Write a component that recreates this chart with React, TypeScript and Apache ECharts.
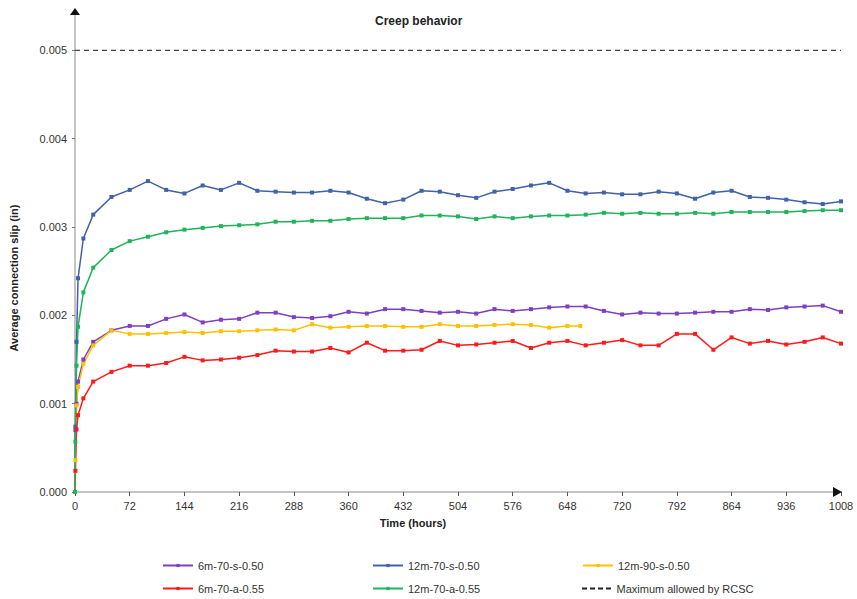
import React, { useEffect, useRef } from "react";
import * as echarts from "echarts";

// Time stamps (hours)
const hours = [0, 0.5, 2, 4, 11, 24, 48, 72, 96, 120, 144, 168, 192, 216, 240, 264, 288, 312, 336, 360, 384, 408, 432, 456, 480, 504, 528, 552, 576, 600, 624, 648, 672, 696, 720, 744, 768, 792, 816, 840, 864, 888, 912, 936, 960, 984, 1008];
const hoursYellow = [0, 0.5, 2, 4, 11, 24, 48, 72, 96, 120, 144, 168, 192, 216, 240, 264, 288, 312, 336, 360, 384, 408, 432, 456, 480, 504, 528, 552, 576, 600, 624, 648, 665];

// Slip values in thousandths of an inch
const slip6m70s050 = [0, 0.70, 1.00, 1.25, 1.50, 1.70, 1.83, 1.88, 1.88, 1.96, 2.01, 1.92, 1.95, 1.96, 2.03, 2.03, 1.98, 1.97, 1.99, 2.04, 2.02, 2.07, 2.07, 2.05, 2.03, 2.04, 2.02, 2.07, 2.05, 2.07, 2.09, 2.10, 2.10, 2.05, 2.01, 2.03, 2.02, 2.02, 2.03, 2.04, 2.04, 2.07, 2.06, 2.09, 2.10, 2.11, 2.04];
const slip12m70s050 = [0, 0.74, 1.70, 2.42, 2.87, 3.14, 3.34, 3.42, 3.52, 3.42, 3.38, 3.47, 3.42, 3.50, 3.41, 3.40, 3.39, 3.39, 3.41, 3.39, 3.32, 3.27, 3.31, 3.41, 3.40, 3.36, 3.33, 3.40, 3.43, 3.47, 3.50, 3.41, 3.38, 3.39, 3.37, 3.37, 3.40, 3.38, 3.32, 3.39, 3.41, 3.34, 3.33, 3.31, 3.28, 3.26, 3.29];
const slip12m90s050 = [0, 0.36, 0.98, 1.19, 1.45, 1.66, 1.83, 1.79, 1.79, 1.80, 1.81, 1.80, 1.82, 1.82, 1.83, 1.84, 1.83, 1.90, 1.86, 1.87, 1.88, 1.88, 1.87, 1.87, 1.90, 1.88, 1.88, 1.89, 1.90, 1.89, 1.86, 1.88, 1.88];
const slip6m70a055 = [0, 0.24, 0.71, 0.87, 1.06, 1.25, 1.36, 1.43, 1.43, 1.46, 1.53, 1.49, 1.50, 1.52, 1.55, 1.60, 1.59, 1.59, 1.63, 1.58, 1.69, 1.60, 1.60, 1.61, 1.71, 1.66, 1.67, 1.69, 1.71, 1.63, 1.69, 1.71, 1.66, 1.69, 1.72, 1.66, 1.66, 1.79, 1.79, 1.61, 1.75, 1.68, 1.71, 1.67, 1.70, 1.75, 1.68];
const slip12m70a055 = [0, 0.57, 1.43, 1.87, 2.26, 2.54, 2.74, 2.84, 2.89, 2.94, 2.97, 2.99, 3.01, 3.02, 3.03, 3.06, 3.06, 3.07, 3.07, 3.09, 3.10, 3.10, 3.10, 3.13, 3.13, 3.12, 3.09, 3.12, 3.10, 3.12, 3.13, 3.13, 3.14, 3.16, 3.15, 3.16, 3.15, 3.15, 3.16, 3.15, 3.17, 3.17, 3.17, 3.17, 3.18, 3.19, 3.19];

const rcscLimit = 0.005;
const rcscHours = [0, 1008];
const yTickValues = [0, 0.001, 0.002, 0.003, 0.004, 0.005];

const seriesNames = ["6m-70-s-0.50", "12m-70-s-0.50", "12m-90-s-0.50", "6m-70-a-0.55", "12m-70-a-0.55", "Maximum allowed by RCSC"];
const seriesColors = ["#7f3fbf", "#3f62a8", "#ffc000", "#ff1a1a", "#1fb35a", "#444444"];

const FONT = "Liberation Sans, Arial, sans-serif";
const DASH_ICON = "path://M0 0H5V2H0Z M8 0H13V2H8Z M16 0H21V2H16Z M24 0H29V2H24Z";

export default function App() {
  const ref = useRef<HTMLDivElement>(null);
  useEffect(() => {
    if (!ref.current) return;
    const chart = echarts.init(ref.current, null, { renderer: "svg" });
    const mk = (i: number, xs: number[], ys: number[]) => ({
      name: seriesNames[i],
      type: "line",
      data: xs.map((t, k) => [t, ys[k] * 0.001]),
      symbol: "rect",
      symbolSize: 4,
      showSymbol: true,
      lineStyle: { width: 1.5, color: seriesColors[i] },
      itemStyle: { color: seriesColors[i] },
    });
    const legendPos = [
      [157, 555], [367, 555], [577, 555],
      [157, 578], [367, 578], [577, 578],
    ];
    chart.setOption({
      animation: false,
      textStyle: { fontFamily: FONT },
      title: {
        text: "Creep behavior",
        left: 370,
        top: 10,
        textStyle: { fontSize: 12, fontWeight: "bold", color: "#222", fontFamily: FONT },
      },
      legend: seriesNames.map((n, i) => {
        const base: any = {
          data: [n],
          left: legendPos[i][0],
          top: legendPos[i][1],
          itemWidth: 30,
          itemHeight: 4,
          itemGap: 5,
          textStyle: { fontSize: 11, color: "#333", fontFamily: FONT },
          selectedMode: false,
        };
        if (i === 5) {
          base.icon = DASH_ICON;
          base.itemHeight = 2;
          base.itemStyle = { color: "#222" };
        }
        return base;
      }),
      grid: { left: 75, right: 16, top: 15, bottom: 107, containLabel: false },
      xAxis: {
        type: "value",
        min: 0,
        max: 1008,
        interval: 72,
        axisLine: { show: true, lineStyle: { color: "#c4c4c4", width: 2 } },
        axisTick: { show: true, length: 4, lineStyle: { color: "#555", width: 1 } },
        axisLabel: { fontSize: 11, color: "#333", margin: 8, fontFamily: FONT, formatter: (v: number) => String(v) },
        splitLine: { show: false },
      },
      yAxis: {
        type: "value",
        min: 0,
        max: 0.0054,
        axisLine: { show: true, lineStyle: { color: "#c4c4c4", width: 2 } },
        axisTick: { show: true, length: 3, customValues: yTickValues, lineStyle: { color: "#777", width: 1 } },
        axisLabel: {
          fontSize: 11,
          color: "#333",
          margin: 8,
          fontFamily: FONT,
          customValues: yTickValues,
          formatter: (v: number) => v.toFixed(3),
        },
        splitLine: { show: false },
      },
      series: [
        mk(0, hours, slip6m70s050),
        mk(1, hours, slip12m70s050),
        mk(2, hoursYellow, slip12m90s050),
        mk(3, hours, slip6m70a055),
        mk(4, hours, slip12m70a055),
        {
          name: seriesNames[5],
          type: "line",
          data: rcscHours.map((t) => [t, rcscLimit]),
          symbol: "none",
          lineStyle: { width: 1.2, color: seriesColors[5], type: [5, 4] },
          itemStyle: { color: seriesColors[5] },
          z: 1,
        },
      ],
    });
    const pEndX = chart.convertToPixel({ gridIndex: 0 }, [1008, 0]) as number[];
    const pEndY = chart.convertToPixel({ gridIndex: 0 }, [0, 0.0054]) as number[];
    chart.setOption({
      graphic: [
        {
          type: "polygon",
          shape: { points: [[pEndX[0] - 8, pEndX[1] - 5], [pEndX[0] + 1, pEndX[1]], [pEndX[0] - 8, pEndX[1] + 5]] },
          style: { fill: "#111" },
          z: 10,
        },
        {
          type: "polygon",
          shape: { points: [[pEndY[0] - 5, pEndY[1]], [pEndY[0], pEndY[1] - 7], [pEndY[0] + 5, pEndY[1]]] },
          style: { fill: "#111" },
          z: 10,
        },
        {
          type: "text",
          x: 14,
          y: 278,
          rotation: Math.PI / 2,
          style: {
            text: "Average connection slip (in)",
            fontSize: 11,
            fontWeight: "bold",
            fontFamily: FONT,
            fill: "#222",
            align: "center",
            verticalAlign: "middle",
          },
        },
        {
          type: "text",
          x: 413,
          y: 523,
          style: {
            text: "Time (hours)",
            fontSize: 11,
            fontWeight: "bold",
            fontFamily: FONT,
            fill: "#222",
            align: "center",
            verticalAlign: "middle",
          },
        },
      ],
    });
    return () => chart.dispose();
  }, []);
  return <div ref={ref} style={{ position: "absolute", left: 0, top: 0, width: 857, height: 599 }} />;
}
